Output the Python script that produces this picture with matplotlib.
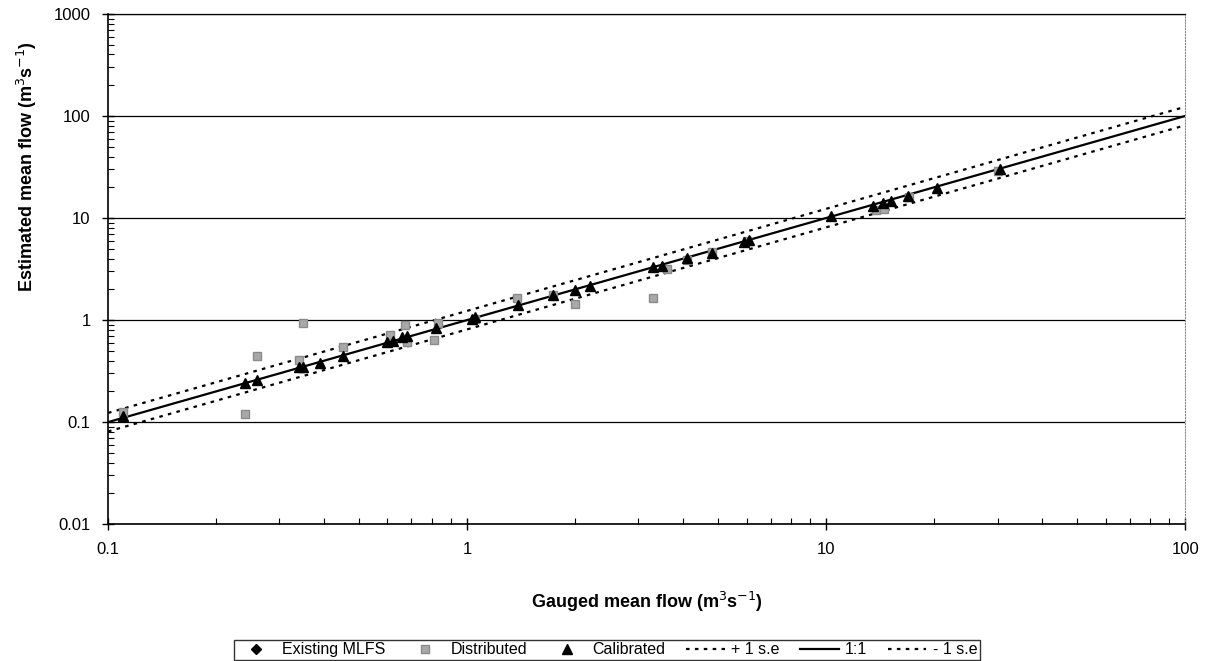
import matplotlib.pyplot as plt
from matplotlib.ticker import LogLocator, NullFormatter

plt.rcParams['font.family'] = ['Liberation Sans', 'DejaVu Sans']

# Calibrated (black triangles)
cal_x = [0.11, 0.24, 0.26, 0.34, 0.35, 0.39, 0.45, 0.60, 0.62, 0.66, 0.68, 0.82,
         1.03, 1.05, 1.39, 1.74, 2.0, 2.2, 3.3, 3.5, 4.1, 4.8, 5.9, 6.1,
         10.3, 13.5, 14.4, 15.2, 16.9, 20.4, 30.4]
cal_y = [0.115, 0.24, 0.26, 0.35, 0.35, 0.38, 0.44, 0.61, 0.63, 0.68, 0.70, 0.83,
         1.02, 1.06, 1.40, 1.76, 1.97, 2.15, 3.3, 3.35, 4.05, 4.5, 5.8, 6.1,
         10.4, 13.1, 14.0, 14.6, 16.4, 19.6, 30.2]

# Distributed (grey squares)
dist_x = [0.11, 0.24, 0.26, 0.34, 0.35, 0.45, 0.61, 0.67, 0.68, 0.81, 0.83,
          1.05, 1.38, 1.73, 2.0, 3.3, 3.6, 4.1, 4.8, 6.0, 13.8, 14.5, 17.0, 30.0]
dist_y = [0.125, 0.12, 0.44, 0.41, 0.93, 0.54, 0.71, 0.89, 0.61, 0.64, 0.93,
          1.03, 1.64, 1.76, 1.43, 1.64, 3.2, 3.9, 4.6, 5.9, 12.0, 12.3, 16.0, 29.0]

# Existing MLFS (hidden under the other markers)
mlfs_x = []
mlfs_y = []

# reference lines (end points)
line_x = [0.1, 100]
one_to_one = [0.1, 100]
upper_se = [0.123, 123]
lower_se = [0.081, 81]

x_ticks = [0.1, 1, 10, 100]
x_labels = ['0.1', '1', '10', '100']
y_ticks = [0.01, 0.1, 1, 10, 100, 1000]
y_labels = ['0.01', '0.1', '1', '10', '100', '1000']

fig = plt.figure(figsize=(12.07, 6.61), dpi=100)
ax = fig.add_axes([0.0895, 0.207, 0.8925, 0.772])

ax.set_xscale('log')
ax.set_yscale('log')
ax.set_xlim(0.1, 100)
ax.set_ylim(0.01, 1000)

# horizontal gridlines
for yv in y_ticks:
    ax.axhline(yv, color='black', lw=0.9, zorder=1)

dots = (0, (1.6, 2.4))
h_mlfs, = ax.plot(mlfs_x, mlfs_y, 'D', color='black', ms=5, label='Existing MLFS')
h_dist, = ax.plot(dist_x, dist_y, 's', color='#a8a8a8', mec='#8a8a8a', ms=6,
                  label='Distributed', zorder=3)
h_cal, = ax.plot(cal_x, cal_y, '^', color='black', ms=7, label='Calibrated', zorder=4)
h_up, = ax.plot(line_x, upper_se, color='black', lw=1.6, ls=dots, label='+ 1 s.e', zorder=2)
h_11, = ax.plot(line_x, one_to_one, color='black', lw=1.6, label='1:1', zorder=2)
h_lo, = ax.plot(line_x, lower_se, color='black', lw=1.6, ls=dots, label='- 1 s.e', zorder=2)

ax.set_xticks(x_ticks)
ax.set_xticklabels(x_labels)
ax.set_yticks(y_ticks)
ax.set_yticklabels(y_labels)
ax.xaxis.set_minor_locator(LogLocator(base=10, subs=range(2, 10)))
ax.yaxis.set_minor_locator(LogLocator(base=10, subs=range(2, 10)))
ax.xaxis.set_minor_formatter(NullFormatter())
ax.yaxis.set_minor_formatter(NullFormatter())
ax.tick_params(which='major', direction='inout', length=9, width=1, labelsize=12, pad=8)
ax.tick_params(which='minor', direction='in', length=4, width=0.8)

for s in ['left', 'bottom']:
    ax.spines[s].set_linewidth(1.2)
ax.spines['top'].set_linewidth(0.9)
ax.spines['right'].set_linestyle(':')
ax.spines['right'].set_color('#888888')
ax.spines['right'].set_linewidth(0.8)

ax.set_xlabel('Gauged mean flow (m$^3$s$^{-1}$)', fontsize=13, fontweight='bold', labelpad=24)
ax.set_ylabel('Estimated mean flow (m$^3$s$^{-1}$)', fontsize=13, fontweight='bold')
ax.yaxis.set_label_coords(-0.064, 0.70)

leg = fig.legend(handles=[h_mlfs, h_dist, h_cal, h_up, h_11, h_lo],
                 loc='center', bbox_to_anchor=(0.503, 0.017), ncol=6,
                 fontsize=11.5, frameon=True, fancybox=False, edgecolor='black',
                 handlelength=2.4, handletextpad=0.4, columnspacing=1.3,
                 borderpad=0.15)
leg.get_frame().set_linewidth(1.0)

fig.savefig('out.png', dpi=100)
